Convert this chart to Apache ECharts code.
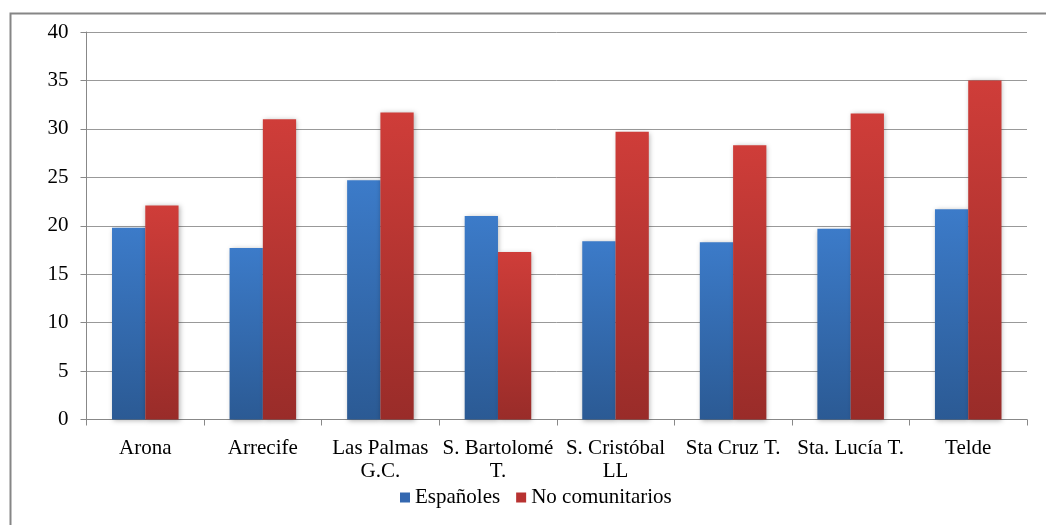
<!DOCTYPE html>
<html><head><meta charset="utf-8">
<script src="https://cdn.jsdelivr.net/npm/echarts@6/dist/echarts.min.js"></script>
<style>html,body{margin:0;padding:0;background:#fff}#c{width:1046px;height:525px}</style>
</head><body><div id="c"></div>
<script>
const categories = ['Arona','Arrecife','Las Palmas\nG.C.','S. Bartolomé\nT.','S. Cristóbal\nLL','Sta Cruz T.','Sta. Lucía T.','Telde'];
const espanoles = [19.8, 17.7, 24.7, 21.0, 18.4, 18.3, 19.7, 21.7];
const noComunitarios = [22.1, 31.0, 31.7, 17.3, 29.7, 28.3, 31.6, 35.0];
const yTicks = {min: 0, max: 40, interval: 5};

const font = 'Liberation Serif';
function grad(top, bottom) {
  return new echarts.graphic.LinearGradient(0, 0, 0, 1, [{offset: 0, color: top}, {offset: 1, color: bottom}]);
}
const chart = echarts.init(document.getElementById('c'));
chart.setOption({
  animation: false,
  textStyle: {fontFamily: font},
  graphic: [{type: 'rect', shape: {x: 10.5, y: 13.5, width: 1060, height: 540}, style: {fill: 'none', stroke: '#868686', lineWidth: 2}, silent: true}],
  grid: {left: 86.5, right: 19, top: 32, bottom: 105.5},
  legend: {
    bottom: 17, left: 400, padding: 0, itemWidth: 10, itemHeight: 10, itemGap: 16,
    textStyle: {fontFamily: font, fontSize: 21, color: '#000'},
    icon: 'rect',
    data: [{name: 'Españoles', itemStyle: {color: '#3468b0'}}, {name: 'No comunitarios', itemStyle: {color: '#b83231'}}]
  },
  xAxis: {
    type: 'category', data: categories,
    axisLine: {lineStyle: {color: '#888', width: 1}},
    axisTick: {show: true, length: 6, lineStyle: {color: '#888'}},
    axisLabel: {color: '#000', fontSize: 21, fontFamily: font, margin: 17, lineHeight: 23, interval: 0}
  },
  yAxis: {
    type: 'value', min: yTicks.min, max: yTicks.max, interval: yTicks.interval,
    axisLine: {show: true, lineStyle: {color: '#888'}},
    axisTick: {show: true, length: 6, lineStyle: {color: '#888'}},
    splitLine: {lineStyle: {color: '#999', width: 1}},
    axisLabel: {color: '#000', fontSize: 21, fontFamily: font, margin: 18}
  },
  series: [
    {name: 'Españoles', type: 'bar', data: espanoles, barWidth: '28.3%', barGap: '0%',
     itemStyle: {color: grad('#3c7bc9', '#2b5a94'), shadowColor: 'rgba(0,0,0,0.3)', shadowBlur: 5, shadowOffsetX: 1, shadowOffsetY: 1}},
    {name: 'No comunitarios', type: 'bar', data: noComunitarios, barWidth: '28.3%', barGap: '0%',
     itemStyle: {color: grad('#cf3d39', '#992c29'), shadowColor: 'rgba(0,0,0,0.3)', shadowBlur: 5, shadowOffsetX: 1, shadowOffsetY: 1}}
  ]
});
</script></body></html>
